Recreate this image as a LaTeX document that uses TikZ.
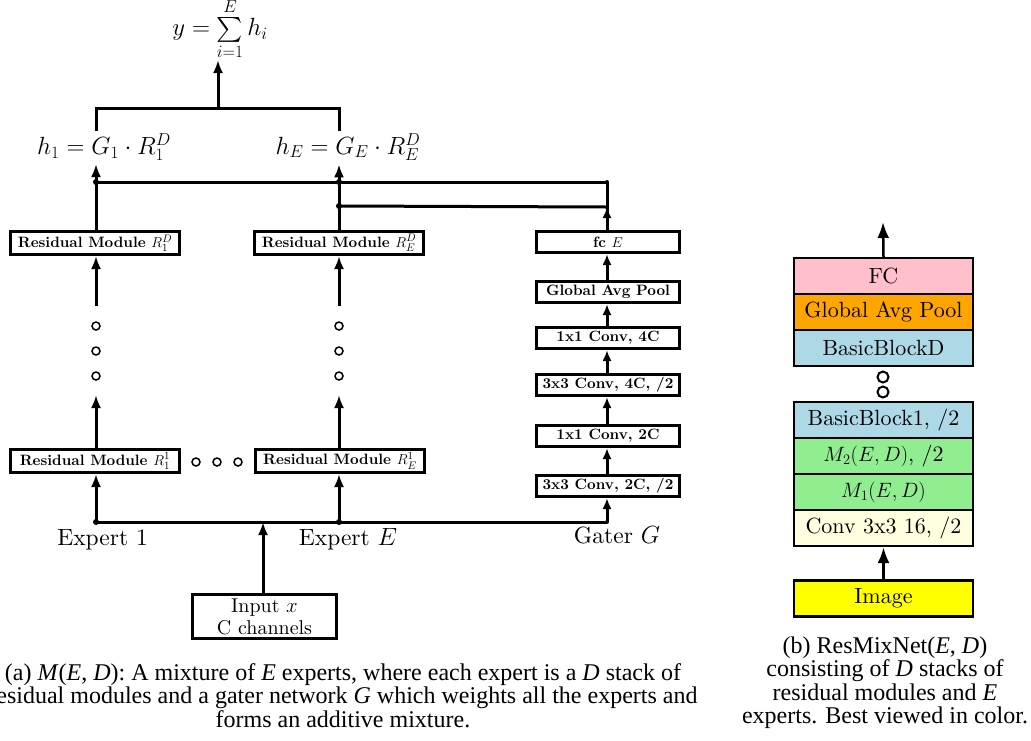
\documentclass[tikz,border=0pt]{standalone}
\usepackage{amsmath}
\usepackage{fontspec}
\setmainfont{lmroman10-regular.otf}[BoldFont=lmroman10-bold.otf, ItalicFont=lmroman10-italic.otf]
\newfontfamily\capfont{Liberation Serif}
\usetikzlibrary{arrows.meta}
\begin{document}
\begin{tikzpicture}[x=1pt,y=-1pt,
  ln/.style={line width=3pt},
  arr/.style={line width=3pt,-{Latex[length=13pt,width=10pt]}},
  sarr/.style={line width=3pt,-{Latex[length=11pt,width=9pt]}},
  barr/.style={line width=2.5pt,-{Latex[length=16pt,width=12pt]}},
  lbox/.style={draw,line width=3pt,fill=white,inner sep=2pt,minimum height=23pt,
    font=\bfseries\fontsize{15}{17}\selectfont},
  gbox/.style={lbox,minimum width=143pt,minimum height=21pt},
  rbox/.style={draw,line width=2.3pt,minimum width=179pt,minimum height=36pt,inner sep=2pt,
    font=\fontsize{22}{24}\selectfont},
  jdot/.style={circle,fill,inner sep=0pt,minimum size=6pt},
  odot/.style={circle,draw,line width=1.5pt,inner sep=0pt,minimum size=8pt},
  bodot/.style={circle,draw,line width=2pt,inner sep=0pt,minimum size=11pt},
  lab/.style={font=\fontsize{23.5}{26}\selectfont},
  captext/.style={font=\capfont\fontsize{24}{23.5}\selectfont,align=center}
]
\useasboundingbox (0,0) rectangle (1031,740);
\definecolor{cPink}{RGB}{255,192,203}
\definecolor{cOrange}{RGB}{255,165,0}
\definecolor{cBlue}{RGB}{173,216,230}
\definecolor{cGreen}{RGB}{144,238,144}
\definecolor{cCream}{RGB}{255,255,224}
\definecolor{cYellow}{RGB}{255,255,0}

% ---------- (a) ----------
\node[lab,inner sep=1pt] (sum) at (220,29) {$y=\sum\limits_{i=1}^{E} h_i$};
\node[lab] (h1) at (104,147) {$h_1 = G_1\cdot R_1^D$};
\node[lab] (hE) at (348,147) {$h_E = G_E\cdot R_E^D$};

\coordinate (jm) at (218,108);
\coordinate (j1) at (96,108);
\coordinate (jE) at (339,108);
\coordinate (t1) at (96,131);
\coordinate (tE) at (339,131);
\coordinate (st) at (218,60);
\draw[ln] (t1) -- (j1) -- (jE) -- (tE);
\draw[arr] (jm) -- (st);

\node[lbox,minimum width=169pt] (rD1) at (95,243) {Residual Module $R_1^D$};
\node[lbox,minimum width=169pt] (rDE) at (339,243) {Residual Module $R_E^D$};
\node[lbox,minimum width=169pt] (r11) at (95,461) {Residual Module $R_1^1$};
\node[lbox,minimum width=169pt] (r1E) at (340,461) {Residual Module $R_E^1$};

% gater column
\node[gbox] (fc) at (608,242) {fc $E$};
\node[gbox] (gap) at (608,292) {Global Avg Pool};
\node[gbox] (c4a) at (608,338) {1x1 Conv, 4C};
\node[gbox] (c4b) at (608,385) {3x3 Conv, 4C, /2};
\node[gbox] (c2a) at (608,436) {1x1 Conv, 2C};
\node[gbox] (c2b) at (608,486) {3x3 Conv, 2C, /2};

% gating lines
\node[jdot] (g1) at (96,182) {};
\node[jdot] (gE) at (339,182) {};
\node[jdot] (gE2) at (339,206) {};
\node[jdot,minimum size=4pt] (gR) at (607,182) {};
\coordinate (gR2) at (607,207);
\draw[ln] (g1.center) -- (gR.center);
\draw[ln] (gE2.center) -- (gR2);
\draw[ln] (fc.north -| gR) -- (gR.center);
\draw[sarr] (fc.north -| gR) -- (gR2);

% expert 1 column
\draw[arr] (g1 |- rD1.north) -- (g1 |- h1.south);
\coordinate (d1b) at (96,306);
\draw[arr] (d1b) -- (d1b |- rD1.south);
\node[odot] (o11) at (96,326) {};
\node[odot] (o12) at (96,351) {};
\node[odot] (o13) at (96,376) {};
\coordinate (d1t) at (96,395);
\draw[arr] (d1t |- r11.north) -- (d1t);

% expert E column
\draw[arr] (gE |- rDE.north) -- (gE |- hE.south);
\coordinate (dEb) at (339,306);
\draw[arr] (dEb) -- (dEb |- rDE.south);
\node[odot] (oE1) at (339,326) {};
\node[odot] (oE2) at (339,351) {};
\node[odot] (oE3) at (339,376) {};
\coordinate (dEt) at (339,395);
\draw[arr] (dEt |- r1E.north) -- (dEt);

% horizontal dots
\node[odot] (h1o) at (196,462) {};
\node[odot] (h2o) at (217,462) {};
\node[odot] (h3o) at (238,462) {};

% gater arrows
\draw[sarr] (gap.north -| gR) -- (fc.south -| gR);
\draw[sarr] (c4a.north -| gR) -- (gap.south -| gR);
\draw[sarr] (c4b.north -| gR) -- (c4a.south -| gR);
\draw[sarr] (c2a.north -| gR) -- (c4b.south -| gR);
\draw[sarr] (c2b.north -| gR) -- (c2a.south -| gR);

% bottom distribution line
\node[jdot] (b1) at (96,522) {};
\node[jdot] (bE) at (339,522) {};
\node[jdot,minimum size=4pt] (bG) at (607,522) {};
\draw[ln] (b1.center) -- (bG.center);
\draw[arr] (b1.center) -- (b1 |- r11.south);
\draw[arr] (bE.center) -- (bE |- r1E.south);
\draw[sarr] (bG.center) -- (bG |- c2b.south);

\node[draw,line width=3pt,minimum width=144pt,minimum height=44pt,inner sep=1pt,align=center,
  font=\fontsize{20}{22}\selectfont] (inp) at (264.5,616.5) {Input $x$\\C channels};
\coordinate (bI) at (263,522);
\draw[arr] (inp.north -| bI) -- (bI);

\node[lab,anchor=base] (ex1) at (102.5,545) {Expert 1};
\node[lab,anchor=base] (exE) at (348,545) {Expert $E$};
\node[lab,anchor=base] (gat) at (617,543) {Gater $G$};

\node[captext,anchor=north] (capa) at (343,660) {(a) \textit{M}(\textit{E}, \textit{D}): A mixture of \textit{E} experts, where each expert is a \textit{D} stack of\\residual modules and a gater network \textit{G} which weights all the experts and\\forms an additive mixture.};

% ---------- (b) ----------
\node[rbox,fill=cPink] (bfc) at (883.5,276) {FC};
\node[rbox,fill=cOrange] (bgap) at (883.5,312) {Global Avg Pool};
\node[rbox,fill=cBlue] (bbd) at (883.5,348) {BasicBlockD};
\node[bodot] (bo1) at (883,377) {};
\node[bodot] (bo2) at (883,392) {};
\node[rbox,fill=cBlue] (bb1) at (883.5,420) {BasicBlock1, /2};
\node[rbox,fill=cGreen] (bm2) at (883.5,456) {$M_2(E,D)$, /2};
\node[rbox,fill=cGreen] (bm1) at (883.5,492) {$M_1(E,D)$};
\node[rbox,fill=cCream] (bcv) at (883.5,528) {Conv 3x3 16, /2};
\node[rbox,fill=cYellow] (bim) at (883.5,598.5) {Image};
\coordinate (btop) at (883,222);
\draw[barr] (bfc.north) -- (btop);
\draw[barr] (bim.north) -- (bcv.south);

\node[captext,anchor=north] (capb) at (885,633) {(b) ResMixNet(\textit{E}, \textit{D})\\consisting of \textit{D} stacks of\\residual modules and \textit{E}\\experts. Best viewed in color.};
\end{tikzpicture}
\end{document}
